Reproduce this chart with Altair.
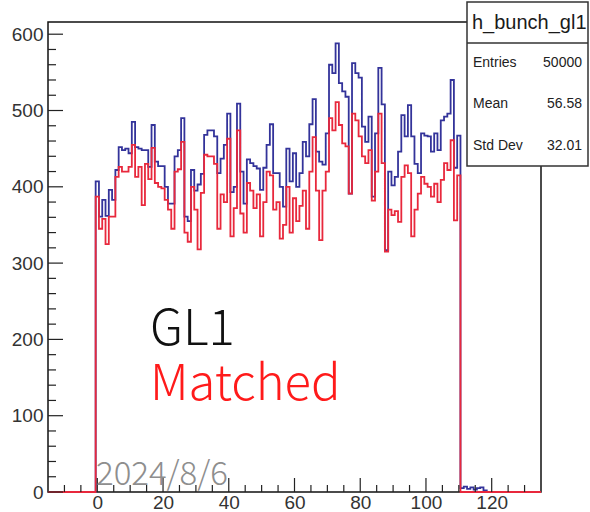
import altair as alt
import pandas as pd

# Bunch-number histograms (bins centred on 0..110, width 1)
gl1_counts = [
    407, 361, 383, 362, 396, 383, 422, 452, 448, 450, 444, 485, 452, 450, 448, 448, 426, 481,
    433, 427, 427, 400, 378, 378, 440, 448, 490, 361, 355, 422, 395, 403, 417, 468, 474,
    474, 466, 418, 437, 455, 496, 393, 400, 509, 420, 378, 436, 431, 427, 424, 396, 425,
    455, 482, 418, 418, 400, 374, 450, 407, 444, 400, 418, 459, 440, 482, 515, 446, 433,
    429, 470, 560,
    549, 588, 536, 525, 518, 391, 562, 549, 543, 479, 459, 492, 387, 470, 556, 508, 317,
    420, 402, 413, 446, 494, 466, 507, 466, 430, 418, 470, 467, 466, 446, 470, 448, 487,
    492, 496, 540, 425, 467,
]
matched_counts = [
    387, 345, 358, 325, 361, 361, 413, 426, 420, 420, 426, 455, 413, 426, 376, 430, 410, 451,
    405, 400, 398, 383, 370, 345, 420, 423, 459, 340, 328, 400, 370, 318, 392, 442, 440,
    440, 430, 345, 390, 380, 463, 335, 372, 474, 365, 340, 405, 395, 372, 390, 335, 380,
    420, 415, 370, 380, 332, 350, 400, 340, 385, 355, 375, 395, 345, 420, 465, 395, 330,
    395, 420, 490,
    474, 511, 481, 457, 453, 391, 496, 487, 466, 440, 431, 448, 382, 420, 496, 431, 315,
    370, 363, 368, 354, 413, 428, 418, 335, 370, 391, 413, 404, 400, 387, 404, 380, 409,
    431, 422, 461, 356, 415,
]
# a few stray entries just past the last filled bunch
gl1_tail = [5, 7, 4, 6, 3, 5, 6, 2]
matched_tail = [0, 0, 0, 0, 0, 0, 0, 0]

x_range = [-15, 135]
y_range = [0, 616]
y_major = [0, 100, 200, 300, 400, 500, 600]
y_minor = [v for v in range(0, 616, 20) if v % 100 != 0]
x_major = [0, 20, 40, 60, 80, 100, 120]
x_minor = [v for v in range(-10, 135, 5) if v % 20 != 0]

legend_labels = ["GL1", "Matched"]
stamp = ["2024/8/6"]
stats_title = ["h_bunch_gl1"]
stats_names = ["Entries", "Mean", "Std Dev"]
stats_values = ["50000", "56.58", "32.01"]

BLUE = "#33339a"
RED = "#e8283c"
W, H = 493, 470
ROW_Y = [41, 82, 124]


def step_frame(counts, tail):
    vals = list(counts) + list(tail)
    edges = [x_range[0]] + [i - 0.5 for i in range(len(vals))] + [len(vals) - 0.5]
    heights = [0] + vals + [0]
    edges.append(x_range[1])
    heights.append(0)
    return pd.DataFrame({"edge": edges, "count": heights})


xs = alt.Scale(domain=x_range, nice=False, zero=False)
ys = alt.Scale(domain=y_range, nice=False)

x_axis = alt.Axis(values=x_major, ticks=False, domain=False, grid=False, title=None,
                  labelFont="Liberation Sans", labelFontSize=19, labelColor="#333333",
                  labelPadding=1)
y_axis = alt.Axis(values=y_major, ticks=False, domain=False, grid=False, title=None,
                  labelFont="Liberation Sans", labelFontSize=19, labelColor="#333333",
                  labelPadding=5)

blue_line = alt.Chart(step_frame(gl1_counts, gl1_tail)).mark_line(
    interpolate="step-after", color=BLUE, strokeWidth=1.8
).encode(
    x=alt.X("edge:Q", scale=xs, axis=x_axis),
    y=alt.Y("count:Q", scale=ys, axis=y_axis),
)
red_line = alt.Chart(step_frame(matched_counts, matched_tail)).mark_line(
    interpolate="step-after", color=RED, strokeWidth=1.8
).encode(
    x=alt.X("edge:Q", scale=xs),
    y=alt.Y("count:Q", scale=ys),
)

# inward-pointing ticks on the frame
tick_style = dict(color="#222222", strokeWidth=1.2)
y_major_ticks = alt.Chart(pd.DataFrame({"v": y_major})).mark_rule(**tick_style).encode(
    y=alt.Y("v:Q", scale=ys), x=alt.value(0), x2=alt.value(15))
y_minor_ticks = alt.Chart(pd.DataFrame({"v": y_minor})).mark_rule(**tick_style).encode(
    y=alt.Y("v:Q", scale=ys), x=alt.value(0), x2=alt.value(8))
x_major_ticks = alt.Chart(pd.DataFrame({"v": x_major})).mark_rule(**tick_style).encode(
    x=alt.X("v:Q", scale=xs), y=alt.value(H), y2=alt.value(H - 14))
x_minor_ticks = alt.Chart(pd.DataFrame({"v": x_minor})).mark_rule(**tick_style).encode(
    x=alt.X("v:Q", scale=xs), y=alt.value(H), y2=alt.value(H - 7))

# legend-style labels and date stamp
gl1_text = alt.Chart(pd.DataFrame({"t": legend_labels[:1]})).mark_text(
    font="Noto Sans CJK JP", fontSize=49, fontWeight=300, color="#111111",
    align="left", baseline="alphabetic"
).encode(text="t:N", x=alt.value(102), y=alt.value(323))
matched_text = alt.Chart(pd.DataFrame({"t": legend_labels[1:]})).mark_text(
    font="Noto Sans CJK JP", fontSize=49, fontWeight=300, color="#ff1a1a",
    align="left", baseline="alphabetic"
).encode(text="t:N", x=alt.value(102), y=alt.value(378))
stamp_text = alt.Chart(pd.DataFrame({"t": stamp})).mark_text(
    font="Noto Sans CJK JP", fontSize=33, fontWeight=300, color="#8e8e8e",
    align="left", baseline="alphabetic"
).encode(text="t:N", x=alt.value(48), y=alt.value(463))

# statistics box in the top-right corner
box = alt.Chart(pd.DataFrame({"k": [0]})).mark_rect(
    fill="white", stroke="#333333", strokeWidth=1.5
).encode(x=alt.value(419), x2=alt.value(540), y=alt.value(-20), y2=alt.value(144))
box_sep = alt.Chart(pd.DataFrame({"k": [0]})).mark_rule(color="#333333", strokeWidth=1.5).encode(
    x=alt.value(419), x2=alt.value(540), y=alt.value(21))
box_title = alt.Chart(pd.DataFrame({"t": stats_title})).mark_text(
    font="Liberation Sans", fontSize=20, color="#1a1a1a", align="left", baseline="alphabetic"
).encode(text="t:N", x=alt.value(424), y=alt.value(7))

stats_layers = []
for name, val, ry in zip(stats_names, stats_values, ROW_Y):
    row_df = pd.DataFrame({"name": [name], "val": [val]})
    stats_layers.append(alt.Chart(row_df).mark_text(
        font="Liberation Sans", fontSize=14, color="#222222", align="left", baseline="middle"
    ).encode(text="name:N", x=alt.value(425), y=alt.value(ry)))
    stats_layers.append(alt.Chart(row_df).mark_text(
        font="Liberation Sans", fontSize=14, color="#222222", align="right", baseline="middle"
    ).encode(text="val:N", x=alt.value(534), y=alt.value(ry)))

chart = alt.layer(
    blue_line, red_line,
    y_major_ticks, y_minor_ticks, x_major_ticks, x_minor_ticks,
    gl1_text, matched_text, stamp_text,
    box, box_sep, box_title, *stats_layers,
).properties(
    width=W, height=H,
    autosize=alt.AutoSizeParams(type="none"),
    padding={"left": 48, "top": 22, "right": 49, "bottom": 20},
    background="white",
).configure_view(stroke="#111111", strokeWidth=1.5)

chart.save("out.html", embed_options={"renderer": "svg", "actions": False})
